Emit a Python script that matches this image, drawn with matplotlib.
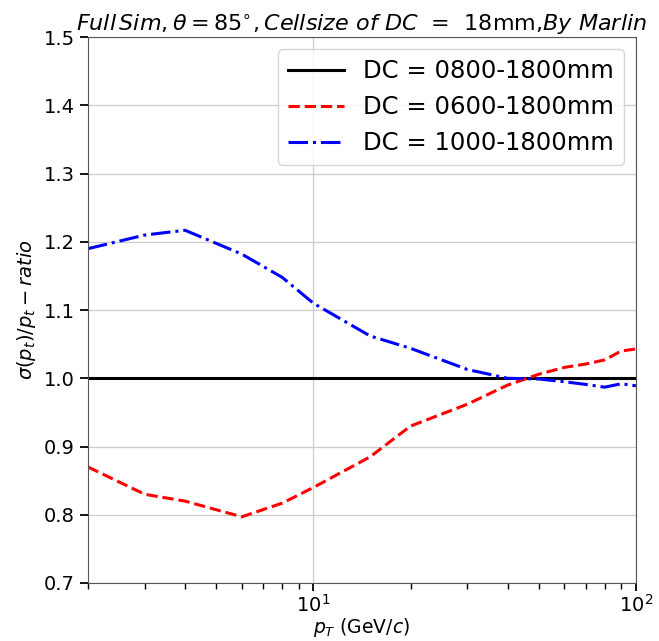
import matplotlib
matplotlib.use('Agg')
import matplotlib.pyplot as plt

# pT points (GeV/c)
pt = [2, 3, 4, 6, 8, 10, 15, 20, 30, 40, 50, 60, 70, 80, 90, 100]

# resolution ratio relative to DC = 0800-1800mm
ratio_0800 = [1.0] * len(pt)
ratio_0600 = [0.870, 0.830, 0.820, 0.797, 0.817, 0.840, 0.885, 0.930, 0.962,
              0.990, 1.006, 1.016, 1.021, 1.027, 1.040, 1.043]
ratio_1000 = [1.190, 1.210, 1.217, 1.182, 1.148, 1.110, 1.062, 1.044, 1.013,
              1.000, 0.999, 0.995, 0.991, 0.987, 0.992, 0.989]

labels = ['DC = 0800-1800mm', 'DC = 0600-1800mm', 'DC = 1000-1800mm']

fig = plt.figure(figsize=(6.59, 6.41), dpi=100)
ax = fig.add_axes([0.1335, 0.0905, 0.8315, 0.8515])

ax.plot(pt, ratio_0800, color='black', linestyle='-', linewidth=2.2, label=labels[0])
ax.plot(pt, ratio_0600, color='red', linestyle='--', linewidth=2.2, label=labels[1])
ax.plot(pt, ratio_1000, color='blue', linestyle='-.', linewidth=2.2, label=labels[2])

ax.set_xscale('log')
ax.set_xlim(2, 100)
ax.set_ylim(0.7, 1.5)
ax.grid(True, color='#cccccc', linewidth=0.9)
for sp in ax.spines.values():
    sp.set_color('#555555')

ax.tick_params(axis='both', which='major', labelsize=14, length=6, width=1.3)
ax.tick_params(axis='x', which='minor', length=4, width=1.0)
ax.tick_params(axis='x', which='major', pad=2)

ax.set_xlabel(r'$p_T$ (GeV/$c$)', fontsize=13.5, labelpad=0)
ax.set_ylabel(r'$\sigma(p_t)/p_t-ratio$', fontsize=14)
ax.set_title(r'$Full\,Sim,\theta=85^{\circ},Cellsize\ of\ DC$  =  18mm,$By\ Marlin$',
             fontsize=16, pad=4)

ax.legend(loc='upper right', fontsize=17.5, handlelength=2.3)

fig.savefig('out.png', dpi=100)
